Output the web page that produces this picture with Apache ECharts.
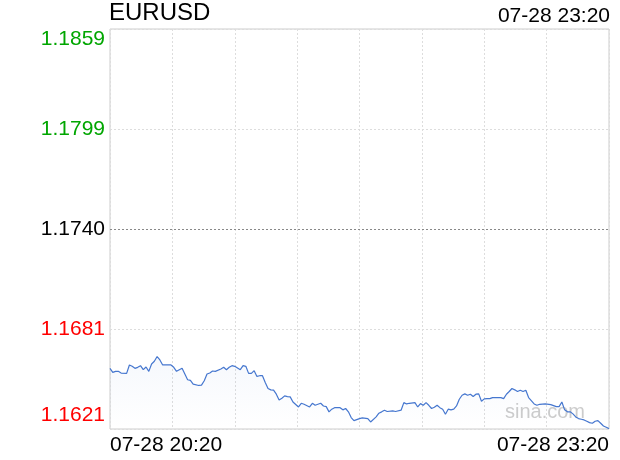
<!DOCTYPE html>
<html>
<head>
<meta charset="utf-8">
<script src="https://cdn.jsdelivr.net/npm/echarts@6/dist/echarts.min.js"></script>
<style>
html,body{margin:0;padding:0;background:#fff;}
#chart{width:620px;height:460px;}
</style>
</head>
<body>
<div id="chart"></div>
<script>
var symbol = 'EURUSD';
var dateLabel = '07-28';
var startTime = '20:20';
var endTime = '23:20';
var preClose = 1.1740;
var yTickLabels = ['1.1621', '1.1681', '1.1740', '1.1799', '1.1859'];
var yMinPrice = 1.1621;
var yMaxPrice = 1.1859;

var times = ['20:20','20:21','20:22','20:23','20:24','20:26','20:27','20:28','20:29','20:30',
'20:31','20:32','20:33','20:34','20:35','20:36','20:37','20:38','20:39','20:42',
'20:43','20:44','20:45','20:46','20:47','20:48','20:49','20:50','20:52','20:53',
'20:54','20:55','20:56','20:57','20:58','21:00','21:01','21:02','21:03','21:04',
'21:05','21:07','21:08','21:09','21:10','21:11','21:12','21:13','21:14','21:15',
'21:16','21:17','21:18','21:19','21:20','21:21','21:22','21:23','21:24','21:25',
'21:26','21:28','21:29','21:30','21:32','21:33','21:34','21:35','21:36','21:37',
'21:38','21:39','21:40','21:41','21:43','21:44','21:45','21:46','21:47','21:48',
'21:50','21:51','21:53','21:54','21:56','21:57','21:58','21:59','22:00','22:02',
'22:03','22:05','22:06','22:07','22:08','22:10','22:11','22:12','22:13','22:14',
'22:15','22:16','22:17','22:18','22:19','22:20','22:21','22:22','22:23','22:24',
'22:25','22:26','22:27','22:28','22:29','22:30','22:31','22:32','22:33','22:34',
'22:35','22:36','22:37','22:38','22:41','22:42','22:43','22:44','22:45','22:46',
'22:47','22:48','22:49','22:50','22:51','22:53','22:54','22:55','22:57','22:59',
'23:00','23:01','23:02','23:03','23:04','23:05','23:06','23:07','23:08','23:09',
'23:10','23:11','23:12','23:13','23:14','23:15','23:16','23:17','23:18','23:19',
'23:20'];

var prices = [1.16571,1.16547,1.16553,1.16553,1.16543,1.16541,1.16591,1.16583,1.16571,1.16577,
1.16587,1.16563,1.16579,1.16553,1.16597,1.16613,1.16641,1.16621,1.16591,1.16591,
1.16577,1.16553,1.16563,1.16571,1.16537,1.16503,1.16499,1.16477,1.16469,1.16471,
1.16497,1.16537,1.16543,1.16555,1.16553,1.16567,1.16577,1.16563,1.16577,1.16587,
1.16583,1.16563,1.16587,1.16583,1.16541,1.16541,1.16557,1.16523,1.16527,1.16527,
1.16487,1.16451,1.16443,1.16441,1.16417,1.16383,1.16393,1.16407,1.16403,1.16401,
1.16371,1.16341,1.16363,1.16357,1.16341,1.16363,1.16351,1.16357,1.16363,1.16347,
1.16343,1.16312,1.16328,1.16337,1.16337,1.16324,1.16332,1.16312,1.16278,1.16260,
1.16272,1.16276,1.16272,1.16252,1.16282,1.16304,1.16312,1.16322,1.16314,1.16318,
1.16314,1.16322,1.16367,1.16359,1.16363,1.16367,1.16341,1.16361,1.16351,1.16367,
1.16351,1.16332,1.16339,1.16351,1.16337,1.16328,1.16298,1.16328,1.16324,1.16328,
1.16347,1.16387,1.16411,1.16419,1.16411,1.16417,1.16403,1.16417,1.16419,1.16375,
1.16389,1.16391,1.16391,1.16397,1.16397,1.16391,1.16417,1.16433,1.16451,1.16443,
1.16433,1.16441,1.16433,1.16441,1.16397,1.16359,1.16351,1.16357,1.16359,1.16355,
1.16349,1.16343,1.16343,1.16371,1.16324,1.16312,1.16312,1.16300,1.16282,1.16272,
1.16268,1.16264,1.16256,1.16248,1.16244,1.16256,1.16260,1.16244,1.16228,1.16220,
1.16212];

function toMin(t){ var p=t.split(':'); return (+p[0])*60+(+p[1]); }
var t0 = toMin(startTime), t1 = toMin(endTime);
var span = t1 - t0;
function toPip(p){ return Math.round((p - preClose) * 100000) / 10; }
var yMin = toPip(yMinPrice), yMax = toPip(yMaxPrice);
var yStep = (yMax - yMin) / 4;

var seriesData = times.map(function(t, i){ return [toMin(t) - t0, toPip(prices[i])]; });

var font = 'Liberation Sans, Arial, Helvetica, sans-serif';
var green = '#00a600', red = '#ff0000', black = '#000000';

var chart = echarts.init(document.getElementById('chart'), null, {renderer:'canvas'});
chart.setOption({
  animation: false,
  backgroundColor: '#fff',
  title: [
    {text: symbol, left: 109, top: 1, padding: 0,
     textStyle: {fontSize: 24, fontWeight: 'normal', color: '#000', fontFamily: font}},
    {text: dateLabel + ' ' + endTime, right: 10, top: 6, padding: 0,
     textStyle: {fontSize: 21, fontWeight: 'normal', color: '#000', fontFamily: font}},
    {text: 'sina.com', left: 505, top: 402, padding: 0, z: 0,
     textStyle: {fontSize: 20, fontWeight: 'normal', color: '#cccccc', fontFamily: font}}
  ],
  grid: {left: 110, top: 29, width: 499, height: 400, show: true,
         borderColor: '#cccccc', borderWidth: 1, backgroundColor: 'transparent'},
  xAxis: {
    type: 'value', min: 0, max: span, interval: span / 8,
    axisLine: {show: false}, axisTick: {show: false},
    splitLine: {show: true, lineStyle: {color: '#dddddd', type: [2, 2], width: 1}},
    axisLabel: {
      show: true, margin: 6, fontSize: 21, color: '#000', fontFamily: font,
      showMinLabel: true, showMaxLabel: true,
      alignMinLabel: 'left', alignMaxLabel: 'right',
      formatter: function(v){
        if (v === 0) return dateLabel + ' ' + startTime;
        if (Math.abs(v - span) < 1e-6) return dateLabel + ' ' + endTime;
        return '';
      }
    }
  },
  yAxis: {
    type: 'value', min: yMin, max: yMax, interval: yStep,
    axisLine: {show: false}, axisTick: {show: false},
    splitLine: {show: true, lineStyle: {color: '#dddddd', type: [2, 2], width: 1}},
    axisLabel: {
      margin: 5, fontSize: 21, fontFamily: font,
      formatter: function(v){
        var i = Math.round((v - yMin) / yStep);
        var s = yTickLabels[i];
        if (i === 0) return '{b|' + s + '}';
        if (i === 1) return '{r|' + s + '}';
        if (i === 2) return '{k|' + s + '}';
        if (i === 3) return '{g|' + s + '}';
        return '{t|' + s + '}';
      },
      rich: {
        b: {color: red, fontSize: 21, fontFamily: font, padding: [0, 0, 28, 0]},
        r: {color: red, fontSize: 21, fontFamily: font},
        k: {color: black, fontSize: 21, fontFamily: font},
        g: {color: green, fontSize: 21, fontFamily: font},
        t: {color: green, fontSize: 21, fontFamily: font, padding: [20, 0, 0, 0]}
      }
    }
  },
  series: [{
    type: 'line',
    data: seriesData,
    showSymbol: false,
    symbol: 'none',
    clip: true,
    lineStyle: {color: '#4677cf', width: 1.2},
    areaStyle: {
      origin: 'start',
      color: new echarts.graphic.LinearGradient(0, 0, 0, 1, [
        {offset: 0, color: 'rgba(70,119,207,0.07)'},
        {offset: 1, color: 'rgba(70,119,207,0.0)'}
      ])
    },
    markLine: {
      silent: true, symbol: 'none', label: {show: false},
      lineStyle: {color: '#888888', type: [2, 2], width: 1},
      data: [{yAxis: toPip(preClose)}]
    }
  }]
});
</script>
</body>
</html>
